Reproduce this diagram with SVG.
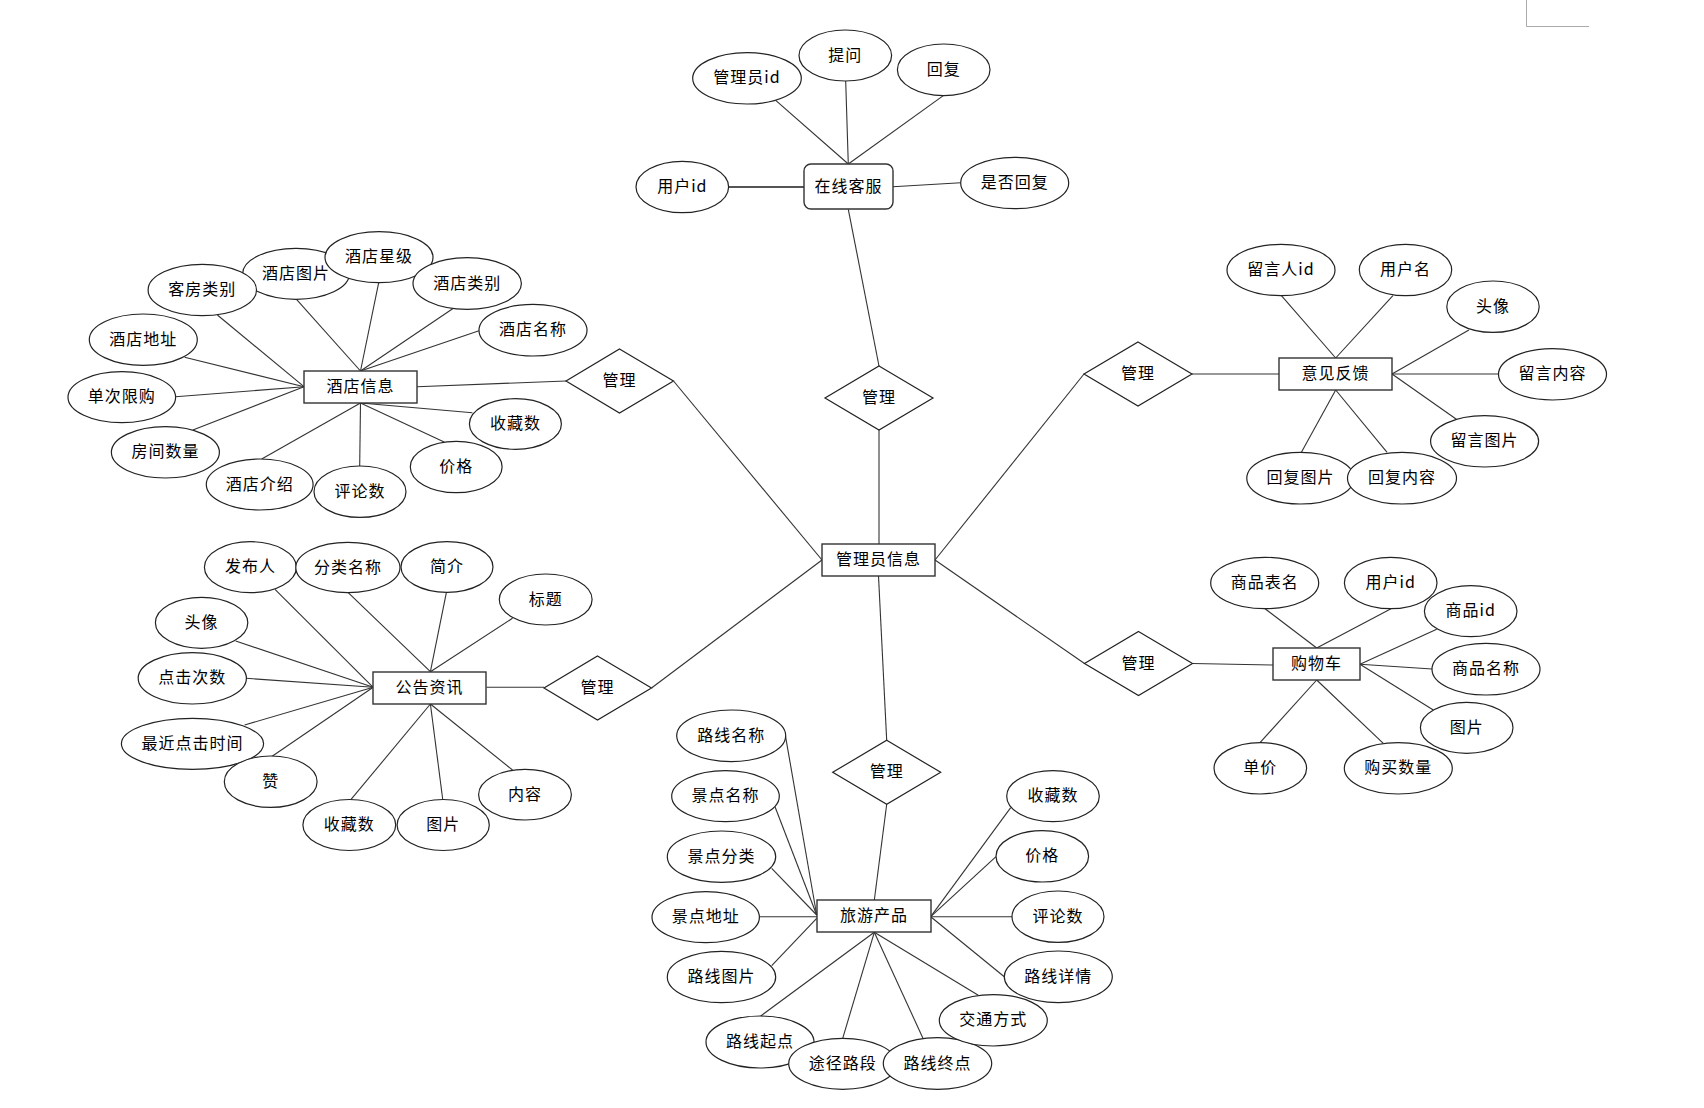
<svg xmlns="http://www.w3.org/2000/svg" width="1704" height="1108" viewBox="0 0 1704 1108">
<style>
.e{fill:#fff;stroke:#222;stroke-width:1.2}
.r{fill:#fff;stroke:#333;stroke-width:1.4}
.d{fill:#fff;stroke:#222;stroke-width:1.2}
.c line{stroke:#333;stroke-width:1.1}
text{font-family:"Noto Sans CJK SC","Noto Sans",sans-serif;font-size:16px;fill:#000;text-anchor:middle;letter-spacing:1px}
</style>
<rect width="1704" height="1108" fill="#fff"/>
<path d="M1526.5 0V26.5H1589" fill="none" stroke="#aaa" stroke-width="1"/>
<g id="connectors" class="c">
<line x1="775.7" y1="100.3" x2="848.3" y2="164"/>
<line x1="845.7" y1="81" x2="848.3" y2="164"/>
<line x1="943.3" y1="95.6" x2="848.3" y2="164"/>
<line x1="728.7" y1="187" x2="804" y2="187" style="stroke-width:1.8;stroke:#555"/>
<line x1="892.7" y1="186.7" x2="960.7" y2="182.7"/>
<line x1="848.3" y1="209.3" x2="879" y2="366"/>
<line x1="879" y1="430" x2="879" y2="544"/>
<line x1="673.5" y1="381" x2="822" y2="560"/>
<line x1="1084" y1="374" x2="935" y2="560"/>
<line x1="935" y1="560" x2="1084.5" y2="663.5"/>
<line x1="822" y1="560" x2="651.5" y2="688"/>
<line x1="878.5" y1="576" x2="886.7" y2="740.3"/>
<line x1="417" y1="386.7" x2="566" y2="381"/>
<line x1="217.4" y1="315" x2="304" y2="386.7"/>
<line x1="296.5" y1="299.3" x2="360.5" y2="371"/>
<line x1="378.7" y1="282.7" x2="360.5" y2="371"/>
<line x1="453.4" y1="308.3" x2="360.5" y2="371"/>
<line x1="479" y1="330.7" x2="360.5" y2="371"/>
<line x1="184.6" y1="357.3" x2="304" y2="386.7"/>
<line x1="175.5" y1="396.7" x2="304" y2="386.7"/>
<line x1="192.9" y1="430" x2="304" y2="386.7"/>
<line x1="261.7" y1="459" x2="360.5" y2="403"/>
<line x1="359.7" y1="466" x2="360.5" y2="403"/>
<line x1="444.7" y1="442.3" x2="360.5" y2="403"/>
<line x1="472.4" y1="412.7" x2="360.5" y2="403"/>
<line x1="486.4" y1="687.3" x2="544" y2="687.3"/>
<line x1="275" y1="589.3" x2="373.2" y2="687.3"/>
<line x1="348.2" y1="592.7" x2="430.4" y2="671.7"/>
<line x1="446.4" y1="592.3" x2="430.4" y2="671.7"/>
<line x1="512.5" y1="618.3" x2="430.4" y2="671.7"/>
<line x1="235.7" y1="641" x2="373.2" y2="687.3"/>
<line x1="246.4" y1="678.3" x2="373.2" y2="687.3"/>
<line x1="244.6" y1="725" x2="373.2" y2="687.3"/>
<line x1="271.4" y1="756.7" x2="373.2" y2="687.3"/>
<line x1="350" y1="800.7" x2="430.4" y2="704"/>
<line x1="442.9" y1="800.7" x2="430.4" y2="704"/>
<line x1="512.5" y1="770" x2="430.4" y2="704"/>
<line x1="886.7" y1="804.3" x2="874.3" y2="900.3"/>
<line x1="785" y1="733.3" x2="816.7" y2="915"/>
<line x1="775" y1="806.7" x2="816.7" y2="915"/>
<line x1="771.7" y1="868.3" x2="816.7" y2="915"/>
<line x1="759.3" y1="916.7" x2="817.3" y2="916.7"/>
<line x1="771.7" y1="965.7" x2="816.7" y2="918.3"/>
<line x1="760.7" y1="1016" x2="874.3" y2="932.3"/>
<line x1="842.7" y1="1038.3" x2="874.3" y2="932.3"/>
<line x1="923.3" y1="1039" x2="874.3" y2="932.3"/>
<line x1="978.3" y1="995.3" x2="874.3" y2="932.3"/>
<line x1="1004.3" y1="976.7" x2="930.7" y2="916.7"/>
<line x1="1012" y1="916.7" x2="930.7" y2="916.7"/>
<line x1="996" y1="856.7" x2="930.7" y2="916.7"/>
<line x1="1010.7" y1="807.7" x2="930.7" y2="916.7"/>
<line x1="1192" y1="374" x2="1279" y2="374"/>
<line x1="1281.4" y1="295.7" x2="1335.7" y2="358"/>
<line x1="1392.9" y1="295.7" x2="1335.7" y2="358"/>
<line x1="1468.9" y1="330" x2="1392" y2="374"/>
<line x1="1498.6" y1="374" x2="1392" y2="374"/>
<line x1="1456.4" y1="419.3" x2="1392" y2="374"/>
<line x1="1301.4" y1="452.3" x2="1335.7" y2="390"/>
<line x1="1387.1" y1="452.3" x2="1335.7" y2="390"/>
<line x1="1192.5" y1="663.5" x2="1273" y2="665"/>
<line x1="1265" y1="608.7" x2="1316.7" y2="648"/>
<line x1="1391" y1="608.7" x2="1316.7" y2="648"/>
<line x1="1436.7" y1="629.3" x2="1360" y2="664.3"/>
<line x1="1432" y1="669" x2="1360" y2="664.3"/>
<line x1="1433.3" y1="710" x2="1360" y2="664.3"/>
<line x1="1260" y1="742.7" x2="1316.7" y2="680"/>
<line x1="1383.3" y1="743.3" x2="1316.7" y2="680"/>
</g>
<g id="admin"><rect class="r" x="822" y="544" width="113" height="32"/><text x="878.5" y="565">管理员信息</text></g>
<g id="kefu"><rect class="r" x="804" y="164" width="89" height="45" rx="7"/><text x="848.5" y="192">在线客服</text></g>
<g id="hotel"><rect class="r" x="304" y="371" width="113" height="32"/><text x="360.5" y="392">酒店信息</text></g>
<g id="notice"><rect class="r" x="373" y="672" width="113" height="32"/><text x="429.5" y="693">公告资讯</text></g>
<g id="travel"><rect class="r" x="817" y="900" width="114" height="32"/><text x="874" y="921">旅游产品</text></g>
<g id="feedback"><rect class="r" x="1279" y="358" width="113" height="32"/><text x="1335.5" y="379">意见反馈</text></g>
<g id="cart"><rect class="r" x="1273" y="648" width="87" height="32"/><text x="1316.5" y="669">购物车</text></g>
<g id="rel-kefu"><polygon class="d" points="879,366 933,398 879,430 825,398"/><text x="879" y="403">管理</text></g>
<g id="rel-hotel"><polygon class="d" points="619.5,349 673.5,381 619.5,413 566,381"/><text x="619.5" y="386">管理</text></g>
<g id="rel-notice"><polygon class="d" points="597.5,656 651.5,688 597.5,720 544,688"/><text x="597.5" y="693">管理</text></g>
<g id="rel-travel"><polygon class="d" points="886.7,740.3 940.7,772.3 886.7,804.3 832.7,772.3"/><text x="886.7" y="777">管理</text></g>
<g id="rel-feedback"><polygon class="d" points="1138,342 1192,374 1138,406 1084,374"/><text x="1138" y="379">管理</text></g>
<g id="rel-cart"><polygon class="d" points="1138.5,631.5 1192.5,663.5 1138.5,695.5 1084.5,663.5"/><text x="1138.5" y="668.5">管理</text></g>
<g id="a-kf-adminid"><ellipse class="e" cx="747" cy="78.3" rx="54.3" ry="25.7"/><text x="747" y="83.3">管理员id</text></g>
<g id="a-kf-ask"><ellipse class="e" cx="845.3" cy="55.5" rx="46.3" ry="25.5"/><text x="845.3" y="60.5">提问</text></g>
<g id="a-kf-reply"><ellipse class="e" cx="943.7" cy="69.8" rx="46.3" ry="25.8"/><text x="943.7" y="74.8">回复</text></g>
<g id="a-kf-userid"><ellipse class="e" cx="682.3" cy="187" rx="46.3" ry="25.7"/><text x="682.3" y="192">用户id</text></g>
<g id="a-kf-replied"><ellipse class="e" cx="1014.7" cy="183" rx="54" ry="25.7"/><text x="1014.7" y="188">是否回复</text></g>
<g id="a-h-pic"><ellipse class="e" cx="296" cy="273.8" rx="53.4" ry="25.5"/><text x="296" y="278.8">酒店图片</text></g>
<g id="a-h-roomtype"><ellipse class="e" cx="202.3" cy="290" rx="54.2" ry="25.7"/><text x="202.3" y="295">客房类别</text></g>
<g id="a-h-star"><ellipse class="e" cx="379" cy="257.2" rx="54" ry="25.5"/><text x="379" y="262.2">酒店星级</text></g>
<g id="a-h-type"><ellipse class="e" cx="467.2" cy="283.5" rx="54.2" ry="25.8"/><text x="467.2" y="288.5">酒店类别</text></g>
<g id="a-h-name"><ellipse class="e" cx="533" cy="330.2" rx="54" ry="25.8"/><text x="533" y="335.2">酒店名称</text></g>
<g id="a-h-addr"><ellipse class="e" cx="143.3" cy="339.7" rx="54" ry="25.7"/><text x="143.3" y="344.7">酒店地址</text></g>
<g id="a-h-limit"><ellipse class="e" cx="121.8" cy="397.2" rx="53.8" ry="25.5"/><text x="121.8" y="402.2">单次限购</text></g>
<g id="a-h-rooms"><ellipse class="e" cx="165.4" cy="452.3" rx="54" ry="25.7"/><text x="165.4" y="457.3">房间数量</text></g>
<g id="a-h-intro"><ellipse class="e" cx="259.7" cy="484.5" rx="53.4" ry="25.5"/><text x="259.7" y="489.5">酒店介绍</text></g>
<g id="a-h-comments"><ellipse class="e" cx="360" cy="491.7" rx="46" ry="25.7"/><text x="360" y="496.7">评论数</text></g>
<g id="a-h-price"><ellipse class="e" cx="456.2" cy="467" rx="45.9" ry="25.7"/><text x="456.2" y="472">价格</text></g>
<g id="a-h-fav"><ellipse class="e" cx="515.4" cy="424" rx="46" ry="25.3"/><text x="515.4" y="429">收藏数</text></g>
<g id="a-n-publisher"><ellipse class="e" cx="250.4" cy="567.2" rx="46" ry="25.5"/><text x="250.4" y="572.2">发布人</text></g>
<g id="a-n-cat"><ellipse class="e" cx="347.9" cy="567.5" rx="52.1" ry="25.2"/><text x="347.9" y="572.5">分类名称</text></g>
<g id="a-n-brief"><ellipse class="e" cx="447" cy="567" rx="46" ry="25.3"/><text x="447" y="572">简介</text></g>
<g id="a-n-title"><ellipse class="e" cx="545.7" cy="599.5" rx="46.4" ry="25.5"/><text x="545.7" y="604.5">标题</text></g>
<g id="a-n-avatar"><ellipse class="e" cx="201.6" cy="622.8" rx="46.2" ry="25.5"/><text x="201.6" y="627.8">头像</text></g>
<g id="a-n-clicks"><ellipse class="e" cx="192.3" cy="678.3" rx="54.1" ry="25.7"/><text x="192.3" y="683.3">点击次数</text></g>
<g id="a-n-lastclick"><ellipse class="e" cx="192.5" cy="743.8" rx="71.1" ry="25.5"/><text x="192.5" y="748.8">最近点击时间</text></g>
<g id="a-n-like"><ellipse class="e" cx="270.7" cy="781.7" rx="46.4" ry="25.7"/><text x="270.7" y="786.7">赞</text></g>
<g id="a-n-fav"><ellipse class="e" cx="349.3" cy="825" rx="46.4" ry="25.5"/><text x="349.3" y="830">收藏数</text></g>
<g id="a-n-pic"><ellipse class="e" cx="443.2" cy="825" rx="46.1" ry="25.5"/><text x="443.2" y="830">图片</text></g>
<g id="a-n-content"><ellipse class="e" cx="525" cy="794.7" rx="46.4" ry="25.3"/><text x="525" y="799.7">内容</text></g>
<g id="a-t-routename"><ellipse class="e" cx="731.2" cy="735.8" rx="54.5" ry="25.8"/><text x="731.2" y="740.8">路线名称</text></g>
<g id="a-t-spotname"><ellipse class="e" cx="725.5" cy="796.2" rx="53.8" ry="25.5"/><text x="725.5" y="801.2">景点名称</text></g>
<g id="a-t-spotcat"><ellipse class="e" cx="721.5" cy="856.7" rx="54.2" ry="25.7"/><text x="721.5" y="861.7">景点分类</text></g>
<g id="a-t-spotaddr"><ellipse class="e" cx="705.7" cy="917.2" rx="53.7" ry="25.5"/><text x="705.7" y="922.2">景点地址</text></g>
<g id="a-t-routepic"><ellipse class="e" cx="721.5" cy="977" rx="54.2" ry="25.7"/><text x="721.5" y="982">路线图片</text></g>
<g id="a-t-start"><ellipse class="e" cx="760" cy="1042" rx="54" ry="26"/><text x="760" y="1047">路线起点</text></g>
<g id="a-t-via"><ellipse class="e" cx="842.7" cy="1063.8" rx="54" ry="25.5"/><text x="842.7" y="1068.8">途径路段</text></g>
<g id="a-t-end"><ellipse class="e" cx="937.5" cy="1063.5" rx="54.2" ry="25.8"/><text x="937.5" y="1068.5">路线终点</text></g>
<g id="a-t-transport"><ellipse class="e" cx="993.3" cy="1020.3" rx="54" ry="25.7"/><text x="993.3" y="1025.3">交通方式</text></g>
<g id="a-t-detail"><ellipse class="e" cx="1058.3" cy="976.8" rx="54" ry="25.8"/><text x="1058.3" y="981.8">路线详情</text></g>
<g id="a-t-comments"><ellipse class="e" cx="1058" cy="916.7" rx="46" ry="25.7"/><text x="1058" y="921.7">评论数</text></g>
<g id="a-t-price"><ellipse class="e" cx="1042.3" cy="856.3" rx="46.3" ry="25.7"/><text x="1042.3" y="861.3">价格</text></g>
<g id="a-t-fav"><ellipse class="e" cx="1053" cy="796.2" rx="46.3" ry="25.5"/><text x="1053" y="801.2">收藏数</text></g>
<g id="a-f-uid"><ellipse class="e" cx="1281" cy="270" rx="54" ry="25.7"/><text x="1281" y="275">留言人id</text></g>
<g id="a-f-uname"><ellipse class="e" cx="1405.5" cy="270" rx="46.2" ry="25.7"/><text x="1405.5" y="275">用户名</text></g>
<g id="a-f-avatar"><ellipse class="e" cx="1493" cy="306.7" rx="46.2" ry="25.7"/><text x="1493" y="311.7">头像</text></g>
<g id="a-f-msg"><ellipse class="e" cx="1552.5" cy="374.3" rx="54" ry="25.7"/><text x="1552.5" y="379.3">留言内容</text></g>
<g id="a-f-msgpic"><ellipse class="e" cx="1484.6" cy="441.3" rx="54" ry="25.7"/><text x="1484.6" y="446.3">留言图片</text></g>
<g id="a-f-replypic"><ellipse class="e" cx="1300.4" cy="478.2" rx="53.6" ry="25.8"/><text x="1300.4" y="483.2">回复图片</text></g>
<g id="a-f-reply"><ellipse class="e" cx="1402" cy="478.2" rx="54.5" ry="25.8"/><text x="1402" y="483.2">回复内容</text></g>
<g id="a-c-table"><ellipse class="e" cx="1264.7" cy="583" rx="54" ry="25.7"/><text x="1264.7" y="588">商品表名</text></g>
<g id="a-c-userid"><ellipse class="e" cx="1390.7" cy="583" rx="46.3" ry="25.7"/><text x="1390.7" y="588">用户id</text></g>
<g id="a-c-goodsid"><ellipse class="e" cx="1470.7" cy="611.2" rx="46.3" ry="25.5"/><text x="1470.7" y="616.2">商品id</text></g>
<g id="a-c-goodsname"><ellipse class="e" cx="1486" cy="669.2" rx="54" ry="25.8"/><text x="1486" y="674.2">商品名称</text></g>
<g id="a-c-pic"><ellipse class="e" cx="1466.7" cy="727.8" rx="46.3" ry="25.5"/><text x="1466.7" y="732.8">图片</text></g>
<g id="a-c-price"><ellipse class="e" cx="1260.3" cy="768.3" rx="46.3" ry="25.7"/><text x="1260.3" y="773.3">单价</text></g>
<g id="a-c-qty"><ellipse class="e" cx="1398.3" cy="768.3" rx="54" ry="25.7"/><text x="1398.3" y="773.3">购买数量</text></g>
</svg>
